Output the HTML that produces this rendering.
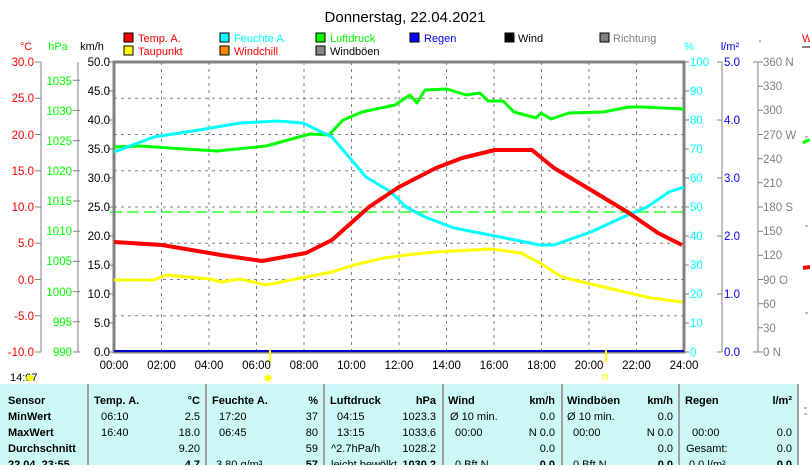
<!DOCTYPE html>
<html><head><meta charset="utf-8"><style>
body{margin:0;background:#fff;width:810px;height:465px;overflow:hidden;font-family:"Liberation Sans",sans-serif}
svg text{font-family:"Liberation Sans",sans-serif}
</style></head><body>
<svg width="810" height="465" viewBox="0 0 810 465" xmlns="http://www.w3.org/2000/svg">
<text x="405" y="22" font-size="15" text-anchor="middle" fill="#000">Donnerstag, 22.04.2021</text>
<g font-size="11">
<rect x="124" y="33" width="9" height="9" fill="#f00" stroke="#000"/><text x="138" y="42" fill="#f00">Temp. A.</text>
<rect x="124" y="46" width="9" height="9" fill="#ff0" stroke="#000"/><text x="138" y="55" fill="#f00">Taupunkt</text>
<rect x="220" y="33" width="9" height="9" fill="#0ff" stroke="#000"/><text x="234" y="42" fill="#0ff">Feuchte A.</text>
<rect x="220" y="46" width="9" height="9" fill="#f80" stroke="#000"/><text x="234" y="55" fill="#f00">Windchill</text>
<rect x="316" y="33" width="9" height="9" fill="#0f0" stroke="#000"/><text x="330" y="42" fill="#0f0">Luftdruck</text>
<rect x="316" y="46" width="9" height="9" fill="#888" stroke="#000"/><text x="330" y="55" fill="#000">Windböen</text>
<rect x="410" y="33" width="9" height="9" fill="#00f" stroke="#000"/><text x="424" y="42" fill="#00f">Regen</text>
<rect x="505" y="33" width="9" height="9" fill="#000" stroke="#000"/><text x="518" y="42" fill="#000">Wind</text>
<rect x="600" y="33" width="9" height="9" fill="#808080" stroke="#000"/><text x="613" y="42" fill="#808080">Richtung</text>
<text x="26" y="50" fill="#f00" text-anchor="middle">°C</text>
<text x="58" y="50" fill="#0f0" text-anchor="middle">hPa</text>
<text x="92" y="50" fill="#000" text-anchor="middle">km/h</text>
<text x="689" y="50" fill="#0ff" text-anchor="middle">%</text>
<text x="730" y="50" fill="#00f" text-anchor="middle">l/m²</text>
<text x="760" y="46" fill="#808080" text-anchor="middle" font-size="8">°</text>
<text x="802" y="42" fill="#f00">W</text>
</g>
<g stroke="#808080" stroke-width="1" stroke-dasharray="3,4">
<line x1="114" y1="98.25" x2="684" y2="98.25"/><line x1="114" y1="134.5" x2="684" y2="134.5"/>
<line x1="114" y1="170.75" x2="684" y2="170.75"/><line x1="114" y1="207" x2="684" y2="207"/>
<line x1="114" y1="243.25" x2="684" y2="243.25"/><line x1="114" y1="279.5" x2="684" y2="279.5"/>
<line x1="114" y1="315.75" x2="684" y2="315.75"/>
<line x1="161.5" y1="62" x2="161.5" y2="352"/><line x1="209" y1="62" x2="209" y2="352"/>
<line x1="256.5" y1="62" x2="256.5" y2="352"/><line x1="304" y1="62" x2="304" y2="352"/>
<line x1="351.5" y1="62" x2="351.5" y2="352"/><line x1="399" y1="62" x2="399" y2="352"/>
<line x1="446.5" y1="62" x2="446.5" y2="352"/><line x1="494" y1="62" x2="494" y2="352"/>
<line x1="541.5" y1="62" x2="541.5" y2="352"/><line x1="589" y1="62" x2="589" y2="352"/>
<line x1="636.5" y1="62" x2="636.5" y2="352"/>
</g>
<line x1="110" y1="212" x2="684" y2="212" stroke="#0f0" stroke-width="1.3" stroke-dasharray="12,5"/>
<rect x="114" y="62" width="570" height="290" fill="none" stroke="#808080" stroke-width="3"/>
<line x1="114" y1="351" x2="684" y2="351" stroke="#0000cc" stroke-width="2"/>
<line x1="270" y1="350" x2="270" y2="362" stroke="#ff0" stroke-width="2"/>
<line x1="606" y1="350" x2="606" y2="362" stroke="#ff0" stroke-width="2"/>
<g stroke="#808080" stroke-width="1" fill="none">
<line x1="41" y1="62" x2="41" y2="352"/>
<path d="M35 62H41M35 98.25H41M35 134.5H41M35 170.75H41M35 207H41M35 243.25H41M35 279.5H41M35 315.75H41M35 352H41"/>
<line x1="78" y1="62" x2="78" y2="352"/>
<path d="M73 80.2H80M73 110.4H80M73 140.6H80M73 170.8H80M73 201H80M73 231.2H80M73 261.4H80M73 291.6H80M73 321.8H80M73 352H80"/>
<path d="M108 62H114M108 91H114M108 120H114M108 149H114M108 178H114M108 207H114M108 236H114M108 265H114M108 294H114M108 323H114M108 352H114"/>
<path d="M684 62H689M684 91H689M684 120H689M684 149H689M684 178H689M684 207H689M684 236H689M684 265H689M684 294H689M684 323H689M684 352H689"/>
<line x1="722" y1="62" x2="722" y2="352"/>
<path d="M717 62H722M717 120H722M717 178H722M717 236H722M717 294H722M717 352H722"/>
<line x1="758" y1="62" x2="758" y2="352"/>
<path d="M753 62H763M758 86.2H763M758 110.3H763M758 134.5H763M758 158.7H763M758 182.8H763M758 207H763M758 231.2H763M758 255.3H763M758 279.5H763M758 303.7H763M758 327.8H763M753 352H763"/>
<path d="M805 137H808M805 226H808M805 313H808M804 408H807M804 414H807"/>
</g>
<g font-size="11.5">
<g fill="#f00" text-anchor="end">
<text x="34" y="66">30.0</text><text x="34" y="102">25.0</text><text x="34" y="139">20.0</text><text x="34" y="175">15.0</text><text x="34" y="211">10.0</text><text x="34" y="247">5.0</text><text x="34" y="284">0.0</text><text x="34" y="320">-5.0</text><text x="34" y="356">-10.0</text>
</g>
<g fill="#0f0" text-anchor="end">
<text x="72" y="85">1035</text><text x="72" y="115">1030</text><text x="72" y="145">1025</text><text x="72" y="175">1020</text><text x="72" y="205">1015</text><text x="72" y="235">1010</text><text x="72" y="265">1005</text><text x="72" y="296">1000</text><text x="72" y="326">995</text><text x="72" y="356">990</text>
</g>
<g fill="#000" text-anchor="end">
<text x="110" y="66">50.0</text><text x="110" y="95">45.0</text><text x="110" y="124">40.0</text><text x="110" y="153">35.0</text><text x="110" y="182">30.0</text><text x="110" y="211">25.0</text><text x="110" y="240">20.0</text><text x="110" y="269">15.0</text><text x="110" y="298">10.0</text><text x="110" y="327">5.0</text><text x="110" y="356">0.0</text>
</g>
<g fill="#0ff">
<text x="690" y="66">100</text><text x="690" y="95">90</text><text x="690" y="124">80</text><text x="690" y="153">70</text><text x="690" y="182">60</text><text x="690" y="211">50</text><text x="690" y="240">40</text><text x="690" y="269">30</text><text x="690" y="298">20</text><text x="690" y="327">10</text><text x="690" y="356">0</text>
</g>
<g fill="#00f">
<text x="724" y="66">5.0</text><text x="724" y="124">4.0</text><text x="724" y="182">3.0</text><text x="724" y="240">2.0</text><text x="724" y="298">1.0</text><text x="724" y="356">0.0</text>
</g>
<g fill="#808080">
<text x="763" y="66">360 N</text><text x="763" y="90">330</text><text x="763" y="114">300</text><text x="763" y="139">270 W</text><text x="763" y="163">240</text><text x="763" y="187">210</text><text x="763" y="211">180 S</text><text x="763" y="235">150</text><text x="763" y="259">120</text><text x="763" y="284">90   O</text><text x="763" y="308">60</text><text x="763" y="332">30</text><text x="763" y="356">0    N</text>
</g>
<g fill="#000" text-anchor="middle">
<text x="114" y="369">00:00</text><text x="161.5" y="369">02:00</text><text x="209" y="369">04:00</text><text x="256.5" y="369">06:00</text><text x="304" y="369">08:00</text><text x="351.5" y="369">10:00</text><text x="399" y="369">12:00</text><text x="446.5" y="369">14:00</text><text x="494" y="369">16:00</text><text x="541.5" y="369">18:00</text><text x="589" y="369">20:00</text><text x="636.5" y="369">22:00</text><text x="684" y="369">24:00</text>
</g>
</g>
<g fill="none" stroke-width="3" stroke-linejoin="round">
<polyline stroke="#0f0" points="114,147 140,146 184,149 217,151 266,146 310,134 329,135 343,120 362,112 395,105 410,95 417,103 425,90 447,89 466,95 480,93 488,101 503,101 514,112 536,118 541,113 551,119 569,113 603,112 629,107 643,107 684,109"/>
<polyline stroke="#0ff" points="114,152 154,137 199,130 240,123 277,121 303,123 332,137 343,150 366,177 391,192 406,207 425,217 454,228 480,233 510,239 540,245 554,245 591,232 621,218 647,207 669,192 684,187"/>
<polyline stroke="#ff0" points="114,280 154,280 166,275 210,279 221,282 240,279 266,285 306,277 332,272 354,265 384,258 406,255 436,252 491,249 521,253 540,263 562,277 591,284 629,293 651,298 682,302"/>
<polyline stroke="#f00" stroke-width="4" points="114,242 162,245 221,255 262,261 306,253 332,240 369,207 399,187 436,168 462,158 495,150 532,150 554,168 591,190 629,213 658,233 682,245"/>
</g>
<line x1="802" y1="47" x2="810" y2="47" stroke="#808080" stroke-width="2"/>
<path d="M803 143l3-2 4-1" stroke="#0f0" stroke-width="3" fill="none"/>
<path d="M803 268l7-1" stroke="#f00" stroke-width="4" fill="none"/>
<text x="10" y="381" font-size="11">14:07</text>
<ellipse cx="30" cy="378" rx="4" ry="3" fill="#ff0"/>
<circle cx="268" cy="378" r="3" fill="#ff0" stroke="#ff0" stroke-width="2" stroke-dasharray="1,1.5"/>
<rect x="603" y="375" width="4" height="4" fill="none" stroke="#ff0"/>
<rect x="0" y="384" width="799" height="81" fill="#ccf8f8"/>
<g stroke="#a0a0a0" stroke-width="2">
<line x1="88" y1="384" x2="88" y2="465"/><line x1="206" y1="384" x2="206" y2="465"/><line x1="324" y1="384" x2="324" y2="465"/><line x1="443" y1="384" x2="443" y2="465"/><line x1="562" y1="384" x2="562" y2="465"/><line x1="679" y1="384" x2="679" y2="465"/><line x1="798" y1="384" x2="798" y2="465"/>
</g>
<g font-size="11" fill="#000">
<g font-weight="bold">
<text x="8" y="404">Sensor</text><text x="8" y="420">MinWert</text><text x="8" y="436">MaxWert</text><text x="8" y="452">Durchschnitt</text><text x="8" y="468">22.04. 23:55</text>
<text x="94" y="404">Temp. A.</text><text x="200" y="404" text-anchor="end">°C</text>
<text x="212" y="404">Feuchte A.</text><text x="318" y="404" text-anchor="end">%</text>
<text x="330" y="404">Luftdruck</text><text x="436" y="404" text-anchor="end">hPa</text>
<text x="448" y="404">Wind</text><text x="555" y="404" text-anchor="end">km/h</text>
<text x="567" y="404">Windböen</text><text x="673" y="404" text-anchor="end">km/h</text>
<text x="685" y="404">Regen</text><text x="792" y="404" text-anchor="end">l/m²</text>
<text x="200" y="468" text-anchor="end">4.7</text><text x="318" y="468" text-anchor="end">57</text><text x="436" y="468" text-anchor="end">1030.2</text><text x="555" y="468" text-anchor="end">0.0</text><text x="673" y="468" text-anchor="end">0.0</text><text x="792" y="468" text-anchor="end">0.0</text>
</g>
<text x="101" y="420">06:10</text><text x="200" y="420" text-anchor="end">2.5</text>
<text x="101" y="436">16:40</text><text x="200" y="436" text-anchor="end">18.0</text>
<text x="200" y="452" text-anchor="end">9.20</text>
<text x="219" y="420">17:20</text><text x="318" y="420" text-anchor="end">37</text>
<text x="219" y="436">06:45</text><text x="318" y="436" text-anchor="end">80</text>
<text x="318" y="452" text-anchor="end">59</text><text x="216" y="468">3.80 g/m³</text>
<text x="337" y="420">04:15</text><text x="436" y="420" text-anchor="end">1023.3</text>
<text x="337" y="436">13:15</text><text x="436" y="436" text-anchor="end">1033.6</text>
<text x="331" y="452">^2.7hPa/h</text><text x="436" y="452" text-anchor="end">1028.2</text>
<text x="331" y="468">leicht bewölkt</text>
<text x="450" y="420">Ø 10 min.</text><text x="555" y="420" text-anchor="end">0.0</text>
<text x="455" y="436">00:00</text><text x="555" y="436" text-anchor="end">N 0.0</text>
<text x="555" y="452" text-anchor="end">0.0</text><text x="455" y="468">0 Bft N</text>
<text x="567" y="420">Ø 10 min.</text><text x="673" y="420" text-anchor="end">0.0</text>
<text x="573" y="436">00:00</text><text x="673" y="436" text-anchor="end">N 0.0</text>
<text x="673" y="452" text-anchor="end">0.0</text><text x="573" y="468">0 Bft N</text>
<text x="692" y="436">00:00</text><text x="792" y="436" text-anchor="end">0.0</text>
<text x="686" y="452">Gesamt:</text><text x="792" y="452" text-anchor="end">0.0</text>
<text x="689" y="468">0.0 l/m²</text>
</g>
</svg>
</body></html>
